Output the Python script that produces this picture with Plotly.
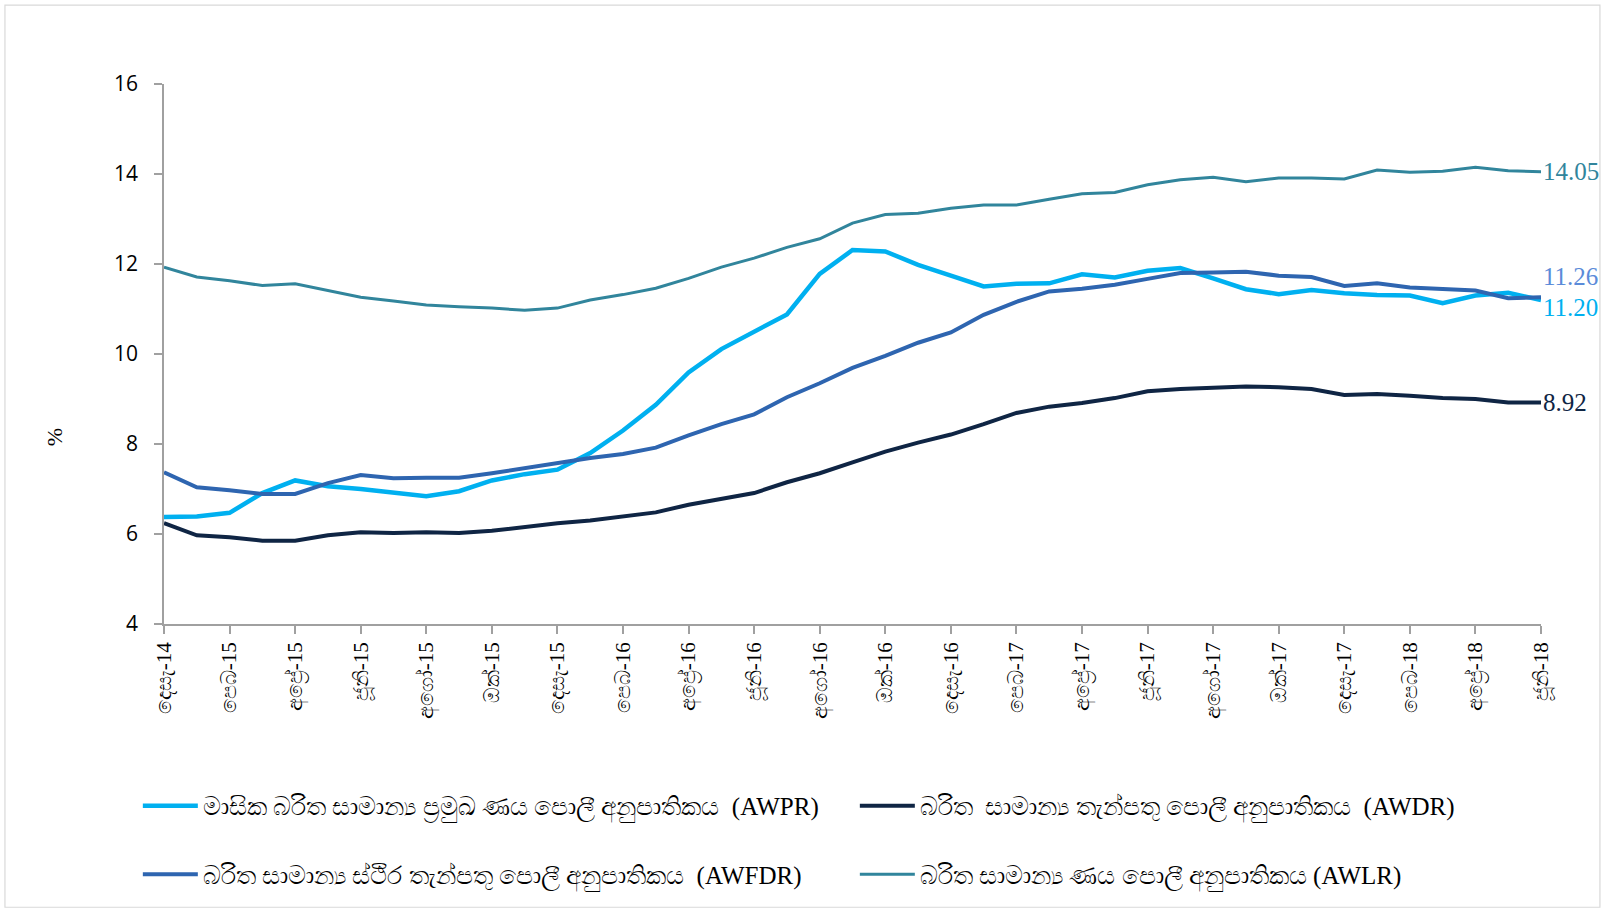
import plotly.graph_objects as go

months = [
    "දෙසැ-14", "ජන-15", "පෙබ-15", "මාර්-15", "අප්‍රේ-15", "මැයි-15", "ජූනි-15", "ජූලි-15", "අගෝ-15", "සැප්-15", "ඔක්-15", "නොවැ-15",
    "දෙසැ-15", "ජන-16", "පෙබ-16", "මාර්-16", "අප්‍රේ-16", "මැයි-16", "ජූනි-16", "ජූලි-16", "අගෝ-16", "සැප්-16", "ඔක්-16", "නොවැ-16",
    "දෙසැ-16", "ජන-17", "පෙබ-17", "මාර්-17", "අප්‍රේ-17", "මැයි-17", "ජූනි-17", "ජූලි-17", "අගෝ-17", "සැප්-17", "ඔක්-17", "නොවැ-17",
    "දෙසැ-17", "ජන-18", "පෙබ-18", "මාර්-18", "අප්‍රේ-18", "මැයි-18", "ජූනි-18",
]
tick_labels = months[::2]

awpr = [6.38, 6.39, 6.47, 6.91, 7.19, 7.06, 7.00, 6.91, 6.84, 6.95, 7.19, 7.33, 7.43, 7.80, 8.30, 8.87,
        9.59, 10.11, 10.50, 10.88, 11.78, 12.31, 12.28, 11.98, 11.74, 11.50, 11.56, 11.57, 11.77, 11.70,
        11.85, 11.91, 11.68, 11.44, 11.33, 11.42, 11.35, 11.31, 11.30, 11.13, 11.30, 11.36, 11.20]
awdr = [6.24, 5.97, 5.93, 5.85, 5.85, 5.97, 6.04, 6.02, 6.04, 6.02, 6.07, 6.16, 6.24, 6.30, 6.38, 6.48,
        6.65, 6.78, 6.91, 7.15, 7.35, 7.59, 7.83, 8.03, 8.21, 8.44, 8.69, 8.83, 8.91, 9.02,
        9.17, 9.22, 9.24, 9.28, 9.26, 9.22, 9.09, 9.11, 9.07, 9.02, 9.00, 8.92, 8.92]
awfdr = [7.37, 7.04, 6.97, 6.89, 6.89, 7.13, 7.31, 7.24, 7.25, 7.25, 7.35, 7.46, 7.59, 7.69, 7.78, 7.92,
         8.19, 8.44, 8.66, 9.04, 9.35, 9.69, 9.96, 10.25, 10.48, 10.87, 11.16, 11.39, 11.45, 11.54,
         11.67, 11.80, 11.81, 11.83, 11.74, 11.71, 11.51, 11.57, 11.48, 11.45, 11.41, 11.24, 11.26]
awlr = [11.93, 11.71, 11.63, 11.52, 11.56, 11.41, 11.26, 11.18, 11.09, 11.05, 11.02, 10.97, 11.02, 11.20,
        11.32, 11.46, 11.68, 11.93, 12.13, 12.37, 12.56, 12.91, 13.10, 13.13, 13.24, 13.31, 13.31, 13.44,
        13.56, 13.59, 13.76, 13.87, 13.93, 13.83, 13.91, 13.91, 13.89, 14.09, 14.04, 14.06, 14.15, 14.07, 14.05]

end_labels = ["11.20", "8.92", "11.26", "14.05"]

names = [
    "මාසික බරිත සාමාන්‍ය ප්‍රමුඛ ණය පොලී අනුපාතිකය  (AWPR)",
    "බරිත  සාමාන්‍ය තැන්පතු පොලී අනුපාතිකය  (AWDR)",
    "බරිත සාමාන්‍ය ස්ථිර තැන්පතු පොලී අනුපාතිකය  (AWFDR)",
    "බරිත සාමාන්‍ය ණය පොලී අනුපාතිකය (AWLR)",
]
colors = ["#00B0F0", "#0F2544", "#2E65B0", "#31859C"]
label_colors = ["#00B0F0", "#0F2544", "#5B8BD9", "#31859C"]
widths = [4.5, 4, 4, 3]
series = [awpr, awdr, awfdr, awlr]
legends = ["legend", "legend", "legend2", "legend2"]
yshifts = [-7, 0, 21, 0]

fig = go.Figure()
for s, n, c, w, lg in zip(series, names, colors, widths, legends):
    fig.add_trace(go.Scatter(x=months, y=s, mode="lines", name=n,
                             line=dict(color=c, width=w), legend=lg))

for s, lab, c, ys in zip(series, end_labels, label_colors, yshifts):
    fig.add_annotation(x=months[-1], y=s[-1], text=lab, showarrow=False,
                       xanchor="left", yanchor="middle", xshift=0, yshift=ys,
                       font=dict(family="Liberation Serif", size=25, color=c))

fig.add_annotation(xref="paper", yref="paper", x=-0.090, y=0.345, text="%",
                   showarrow=False, textangle=-90,
                   font=dict(family="Liberation Serif", size=22, color="#000000"))

fig.add_shape(type="rect", xref="paper", yref="paper", x0=-0.1155, x1=1.0428,
              y0=-0.5245, y1=1.146, line=dict(color="#d9d9d9", width=1.2))

axis_color = "#a0a0a0"
legend_font = dict(family="Liberation Serif", size=25, color="#000000")
fig.update_layout(
    width=1605, height=913,
    margin=dict(l=164, r=64, t=84, b=289),
    paper_bgcolor="white", plot_bgcolor="white",
    xaxis=dict(type="category", range=[0, len(months) - 1], tickmode="array",
               tickvals=tick_labels, ticktext=tick_labels, tickangle=-90,
               showline=True, linecolor=axis_color, linewidth=1.5,
               ticks="outside", ticklen=8, tickcolor=axis_color, tickwidth=1.5,
               showgrid=False, zeroline=False,
               tickfont=dict(family="Liberation Serif", size=21, color="#000000")),
    yaxis=dict(range=[4, 16], tickvals=[4, 6, 8, 10, 12, 14, 16],
               showline=True, linecolor=axis_color, linewidth=1.5,
               ticks="outside", ticklen=8, tickcolor=axis_color, tickwidth=1.5,
               ticklabelstandoff=12,
               showgrid=False, zeroline=False,
               tickfont=dict(family="Open Sans", size=21, color="#000000")),
    legend=dict(orientation="h", x=-0.019, xanchor="left", y=-0.337, yanchor="middle",
                entrywidth=647, entrywidthmode="pixels", traceorder="normal",
                itemwidth=55,
                font=legend_font, bgcolor="rgba(0,0,0,0)"),
    legend2=dict(orientation="h", x=-0.019, xanchor="left", y=-0.464, yanchor="middle",
                 entrywidth=647, entrywidthmode="pixels", traceorder="normal",
                 itemwidth=55,
                 font=legend_font, bgcolor="rgba(0,0,0,0)"),
    showlegend=True,
)

fig.write_html("out.html", config={"displayModeBar": False},
               post_script="document.body.style.margin='0';")
